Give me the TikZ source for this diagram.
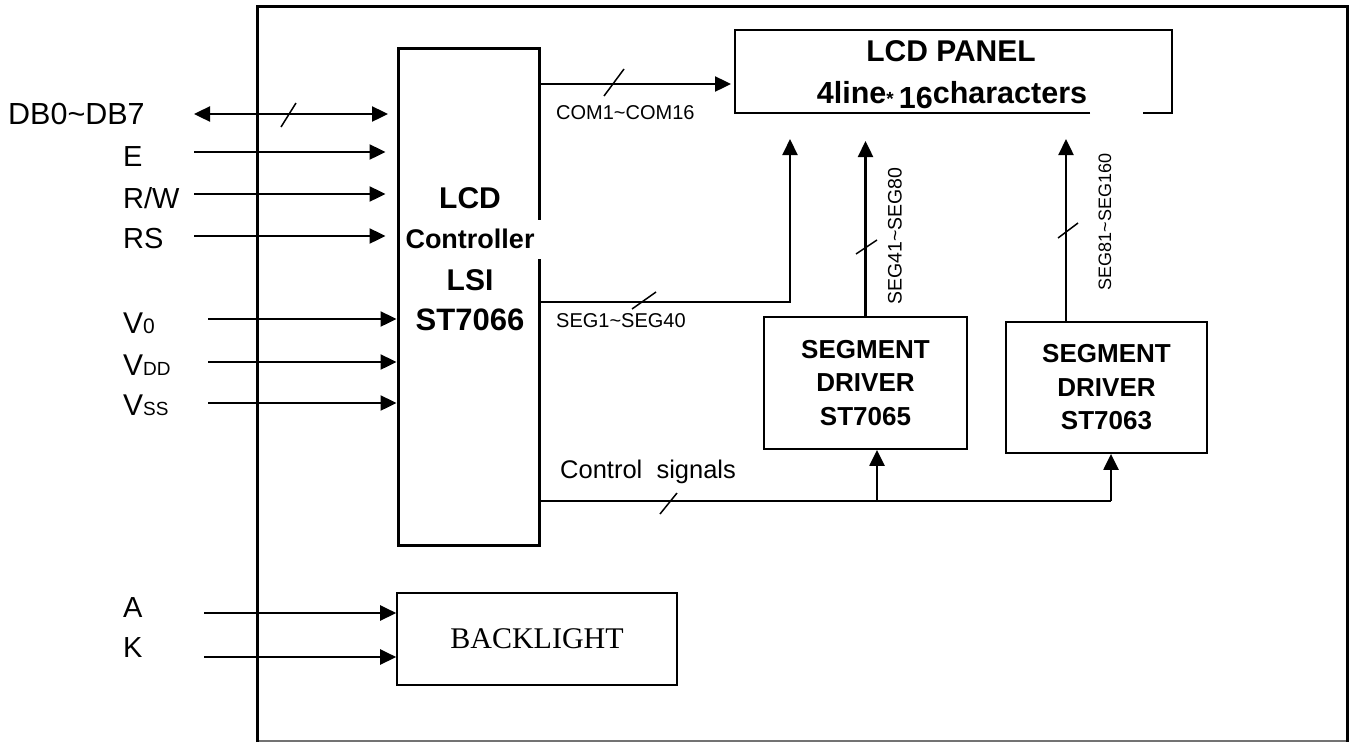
\documentclass[tikz,border=0pt]{standalone}
\usepackage{fontspec}
\setmainfont{Liberation Sans}
\newfontfamily\serifft{Liberation Serif}
\usetikzlibrary{arrows.meta}
\newcommand{\fs}[1]{\fontsize{#1}{#1}\selectfont}
\begin{document}
\begin{tikzpicture}[x=1pt,y=-1pt,
  tip/.tip={Triangle[length=16pt,width=15pt]},
  arr/.style={line width=2.4pt,-tip},
  darr/.style={line width=2.4pt,tip-tip},
  wire/.style={line width=2pt},
  slashln/.style={line width=1.5pt},
  lab/.style={anchor=base west,inner sep=0pt,font=\fs{29}},
  small/.style={inner sep=0pt,font=\fs{20}},
  boxthin/.style={draw,line width=1.8pt,inner sep=0pt,align=center,font=\bfseries\fontsize{26}{33.5}\selectfont}]
\useasboundingbox (0,0) rectangle (1356,742);
% outer frame
\coordinate (fBL) at (257,741);
\coordinate (fTL) at (257,6);
\coordinate (fTR) at (1347,6);
\coordinate (fBR) at (1347,741);
\draw[line width=1.2pt,black!55] (fBL) -- (fBR);
\draw[line width=3pt] ([yshift=-1pt]fBL) -- (fTL) -- (fTR) -- ([yshift=-1pt]fBR);
% controller
\node[draw,line width=3pt,minimum width=141pt,minimum height=497pt,inner sep=0pt] (ctrl) at (468.5,296.5) {};
\fill[white] (536,220) rectangle (542,259);
\node[inner sep=0pt,font=\bfseries\fs{30}] (c1) at (470,198) {LCD};
\node[inner sep=0pt,font=\bfseries\fs{27}] (c2) at (470,239) {Controller};
\node[inner sep=0pt,font=\bfseries\fs{30}] (c3) at (470,280) {LSI};
\node[inner sep=0pt,font=\bfseries\fs{31}] (c4) at (470,320) {ST7066};
% LCD panel
\node[minimum width=437pt,minimum height=83pt,inner sep=0pt,outer sep=0pt] (panel) at (953.5,71.5) {};
\draw[line width=1.6pt] ([xshift=355pt]panel.south west) -- (panel.south west) -- (panel.north west) -- (panel.north east) -- (panel.south east) -- ([xshift=-29pt]panel.south east);
\node[anchor=base,inner sep=0pt,font=\bfseries\fs{30}] (p1) at (951,61) {LCD PANEL};
\node[anchor=base,inner sep=0pt,font=\bfseries\fs{30.5}] (p2) at (952,103) {4line{\fs{19}\raisebox{-2pt}{*}}\,\raisebox{-5pt}{16}characters};
% segment drivers
\node[boxthin,minimum width=203pt,minimum height=132pt] (seg1) at (865.5,383) {SEGMENT\\DRIVER\\ST7065};
\node[boxthin,minimum width=201pt,minimum height=131pt] (seg2) at (1106.5,387.5) {SEGMENT\\DRIVER\\ST7063};
% backlight
\node[draw,line width=1.6pt,minimum width=280pt,minimum height=92pt,inner sep=0pt,font=\serifft\fs{30}] (bl) at (537,639) {BACKLIGHT};
% left labels
\node[lab,font=\fs{30.5}] (lDB) at (8,124) {DB0\textasciitilde DB7};
\node[lab] (lE) at (123,166) {E};
\node[lab] (lRW) at (123,208) {R/W};
\node[lab] (lRS) at (123,248) {RS};
\node[lab,font=\fs{30}] (lV0) at (123,333) {V{\fs{21}0}};
\node[lab,font=\fs{30}] (lVDD) at (123,375) {V{\fs{19}DD}};
\node[lab,font=\fs{30}] (lVSS) at (123,415) {V{\fs{19}SS}};
\node[lab] (lA) at (123,617) {A};
\node[lab] (lK) at (123,657) {K};
% left arrows
\coordinate (dbL) at (194,114);
\coordinate (eL) at (194,152);
\coordinate (rwL) at (194,194);
\coordinate (rsL) at (194,236);
\coordinate (v0L) at (208,319);
\coordinate (vddL) at (208,362);
\coordinate (vssL) at (208,403);
\coordinate (aL) at (204,613);
\coordinate (kL) at (204,657);
\draw[darr,shorten >=8.5pt] (dbL) -- (dbL -| ctrl.west);
\draw[slashln] (281,127) -- (296,103);
\draw[arr,shorten >=11pt] (eL) -- (eL -| ctrl.west);
\draw[arr,shorten >=11pt] (rwL) -- (rwL -| ctrl.west);
\draw[arr,shorten >=11pt] (rsL) -- (rsL -| ctrl.west);
\draw[arr] (v0L) -- (v0L -| ctrl.west);
\draw[arr] (vddL) -- (vddL -| ctrl.west);
\draw[arr] (vssL) -- (vssL -| ctrl.west);
\draw[arr] (aL) -- (aL -| bl.west);
\draw[arr] (kL) -- (kL -| bl.west);
% COM
\coordinate (comY) at (0,84);
\draw[arr,shorten >=4pt] (ctrl.east |- comY) -- (panel.west |- comY);
\draw[slashln] (604,96) -- (624,69);
\node[small,anchor=west] (tCOM) at (556,113) {COM1\textasciitilde COM16};
% SEG1~SEG40
\coordinate (s1Y) at (0,302);
\coordinate (s1c) at (790,302);
\coordinate (s1tip) at (790,139);
\draw[wire,-tip] (ctrl.east |- s1Y) -- (s1c) -- (s1tip);
\draw[slashln] (632,309) -- (656,292);
\node[small,anchor=west] (tSEG1) at (556,321) {SEG1\textasciitilde SEG40};
% SEG41~SEG80
\coordinate (s41tip) at (866,141);
\draw[arr] (seg1.north) -- (seg1.north |- s41tip);
\draw[slashln] (856,254) -- (877,240);
\node[inner sep=0pt,font=\fs{19.5},rotate=90] (tSEG41) at (895,236) {SEG41\textasciitilde SEG80};
% SEG81~SEG160
\coordinate (s81tip) at (1066,139);
\draw[arr] (seg2.north -| s81tip) -- (s81tip);
\draw[slashln] (1058,238) -- (1078,223);
\node[inner sep=0pt,font=\fs{18},rotate=90] (tSEG81) at (1105,222) {SEG81\textasciitilde SEG160};
% control signals
\coordinate (cY) at (0,501);
\coordinate (cM) at (877,501);
\coordinate (cR) at (1111,501);
\draw[line width=1.8pt] (ctrl.east |- cY) -- (cR);
\draw[arr] (cM) -- (cM |- seg1.south);
\draw[arr] (cR) -- (cR |- seg2.south);
\draw[slashln] (660,514) -- (677,493);
\node[inner sep=0pt,anchor=west,font=\fs{25.5}] (tCtl) at (560,472) {Control\ \ signals};
\end{tikzpicture}
\end{document}
